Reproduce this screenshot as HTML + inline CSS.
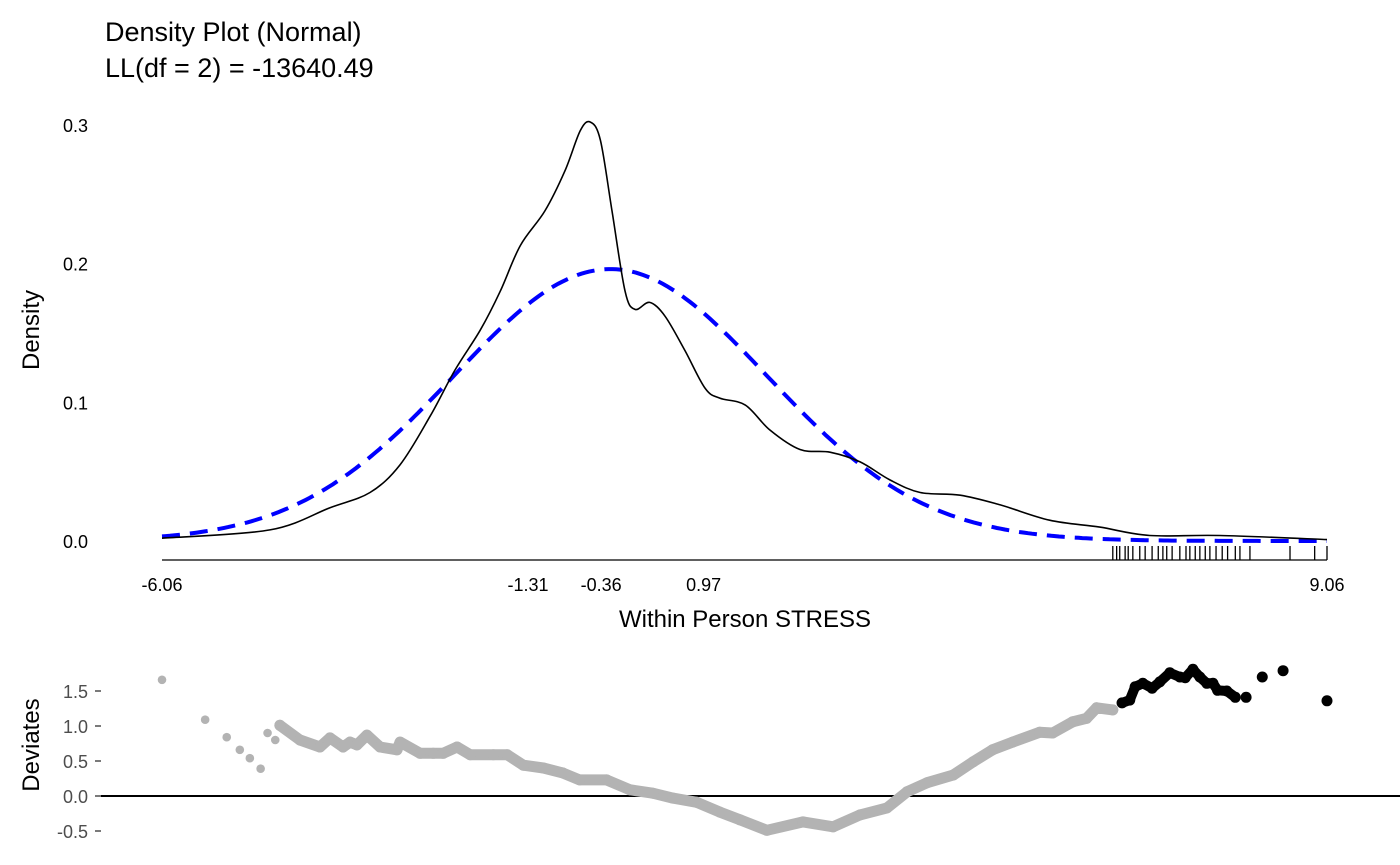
<!DOCTYPE html>
<html><head><meta charset="utf-8"><style>
body{margin:0;background:#fff;}
svg{display:block;font-family:"Liberation Sans",Arial,sans-serif;}
</style></head><body>
<svg id="chart" width="1400" height="865">
<text x="105" y="41" font-size="27" fill="#000">Density Plot (Normal)</text>
<text x="105" y="77" font-size="27" fill="#000">LL(df = 2) = -13640.49</text>
<text transform="translate(39,330) rotate(-90)" text-anchor="middle" font-size="24">Density</text>
<text x="745" y="627" text-anchor="middle" font-size="24">Within Person STRESS</text>
<text transform="translate(39,745) rotate(-90)" text-anchor="middle" font-size="24">Deviates</text>
<line x1="162" y1="560" x2="1327" y2="560" stroke="#000" stroke-width="1.3"/>
<line x1="101" y1="796" x2="1400" y2="796" stroke="#000" stroke-width="2"/>
<g id="topg"></g><g id="botg"></g>
</svg>
<script>
const xTicks=[-6.06,-1.31,-0.36,0.97,9.06];
const yTicks=[0.0,0.1,0.2,0.3];
const devTicks=[1.5,1.0,0.5,0.0,-0.5];
const densX=[-6.06,-4.66,-3.88,-3.36,-2.97,-2.58,-2.26,-1.93,-1.67,-1.41,-1.09,-0.83,-0.63,-0.50,-0.37,-0.22,-0.05,0.08,0.27,0.47,0.73,0.99,1.18,1.51,1.83,2.22,2.61,3.00,3.39,3.78,4.30,4.82,5.46,6.11,6.76,7.67,9.06];
const densY=[0.002,0.008,0.024,0.035,0.055,0.09,0.123,0.152,0.18,0.213,0.238,0.267,0.296,0.302,0.289,0.238,0.18,0.167,0.172,0.162,0.137,0.110,0.103,0.098,0.080,0.066,0.064,0.057,0.044,0.035,0.033,0.026,0.015,0.010,0.004,0.004,0.001];
const normMean=-0.24, normSd=2.035;
const rug=[6.28,6.33,6.37,6.44,6.48,6.54,6.63,6.70,6.79,6.87,6.93,6.98,7.05,7.15,7.23,7.28,7.35,7.41,7.48,7.54,7.62,7.70,7.77,7.87,7.93,8.06,8.58,8.90,9.06];
const devX=[-6.06,-5.50,-5.22,-5.05,-4.92,-4.78,-4.69,-4.59,-4.53,-4.27,-4.01,-3.88,-3.71,-3.62,-3.53,-3.40,-3.23,-3.01,-2.97,-2.71,-2.54,-2.41,-2.23,-2.06,-1.76,-1.58,-1.37,-1.11,-0.86,-0.64,-0.29,0.01,0.31,0.57,0.88,1.18,1.44,1.79,2.26,2.65,3.00,3.35,3.61,3.87,4.21,4.47,4.72,4.98,5.33,5.50,5.76,5.94,6.07,6.28,6.40,6.50,6.57,6.67,6.79,6.89,7.02,7.15,7.22,7.32,7.41,7.50,7.58,7.64,7.76,7.87,8.01,8.22,8.49,9.06];
const devY=[1.66,1.09,0.84,0.66,0.54,0.39,0.90,0.80,1.01,0.80,0.70,0.83,0.70,0.77,0.73,0.87,0.70,0.66,0.77,0.61,0.61,0.61,0.70,0.59,0.59,0.59,0.44,0.40,0.33,0.23,0.23,0.09,0.04,-0.03,-0.09,-0.23,-0.34,-0.49,-0.37,-0.44,-0.27,-0.17,0.06,0.19,0.30,0.49,0.66,0.77,0.91,0.90,1.06,1.11,1.26,1.23,1.33,1.37,1.56,1.61,1.54,1.63,1.76,1.70,1.69,1.81,1.70,1.61,1.61,1.51,1.50,1.41,1.41,1.70,1.79,1.36];
const blackFrom=6.3, bandStart=-4.55, bandEnd=7.9;
const NS='http://www.w3.org/2000/svg';
const sx=v=>162+(v+6.06)*77.05;
const sy=v=>541-v*1387;
const dy=v=>796-v*70;
function mk(t,a,p){const e=document.createElementNS(NS,t);for(const k in a)e.setAttribute(k,a[k]);p.appendChild(e);return e;}
function smooth(P){let d='M'+P[0][0].toFixed(1)+','+P[0][1].toFixed(1);for(let i=0;i<P.length-1;i++){const p0=P[Math.max(0,i-1)],p1=P[i],p2=P[i+1],p3=P[Math.min(P.length-1,i+2)];
const c1=[p1[0]+(p2[0]-p0[0])/6,p1[1]+(p2[1]-p0[1])/6],c2=[p2[0]-(p3[0]-p1[0])/6,p2[1]-(p3[1]-p1[1])/6];
d+='C'+c1.map(v=>v.toFixed(1)).join(',')+' '+c2.map(v=>v.toFixed(1)).join(',')+' '+p2[0].toFixed(1)+','+p2[1].toFixed(1);}return d;}
const topG=document.getElementById('topg'), botG=document.getElementById('botg');
yTicks.forEach(t=>{const e=mk('text',{x:88,y:sy(t)+7,'text-anchor':'end','font-size':18},topG);e.textContent=t.toFixed(1);

});
xTicks.forEach(t=>{const e=mk('text',{x:sx(t),y:591,'text-anchor':'middle','font-size':18},topG);e.textContent=t.toFixed(2);

});
let d='';for(let i=0;i<=300;i++){const v=-6.06+15.12*i/300;const p=Math.exp(-0.5*((v-normMean)/normSd)**2)/(normSd*Math.sqrt(2*Math.PI));d+=(i?'L':'M')+sx(v).toFixed(1)+','+sy(p).toFixed(1);}
const n=mk('path',{d:d,fill:'none',stroke:'#0000ff','stroke-width':4,'stroke-dasharray':'18 10'},topG);


const k=mk('path',{d:smooth(densX.map((x,i)=>[sx(x),sy(densY[i])])),fill:'none',stroke:'#000','stroke-width':1.6,'stroke-linejoin':'round'},topG);


rug.forEach(r=>{const e=mk('line',{x1:sx(r),x2:sx(r),y1:546,y2:560,stroke:'#000','stroke-width':1.3},topG);

});
devTicks.forEach(t=>{const e=mk('text',{x:88,y:dy(t)+7,'text-anchor':'end','font-size':18,fill:'#4d4d4d'},botG);e.textContent=t.toFixed(1);


mk('line',{x1:95,x2:101,y1:dy(t),y2:dy(t),stroke:'#333','stroke-width':1.3},botG);});
const grayPts=[],blackPts=[];
devX.forEach((x,i)=>{if(x>=bandStart&&x<=bandEnd){(x>blackFrom?blackPts:grayPts).push([sx(x),dy(devY[i])]);}});
const gb=mk('polyline',{points:grayPts.map(p=>p.join(',')).join(' '),fill:'none',stroke:'#b3b3b3','stroke-width':11,'stroke-linejoin':'round','stroke-linecap':'round'},botG);


const bb=mk('polyline',{points:blackPts.map(p=>p.join(',')).join(' '),fill:'none',stroke:'#000','stroke-width':10,'stroke-linejoin':'round','stroke-linecap':'round'},botG);


devX.forEach((x,i)=>{const e=mk('circle',{cx:sx(x),cy:dy(devY[i]),r:i<8?4.3:5.5,fill:x>blackFrom?'#000':'#b3b3b3'},botG);

});
</script>
</body></html>
